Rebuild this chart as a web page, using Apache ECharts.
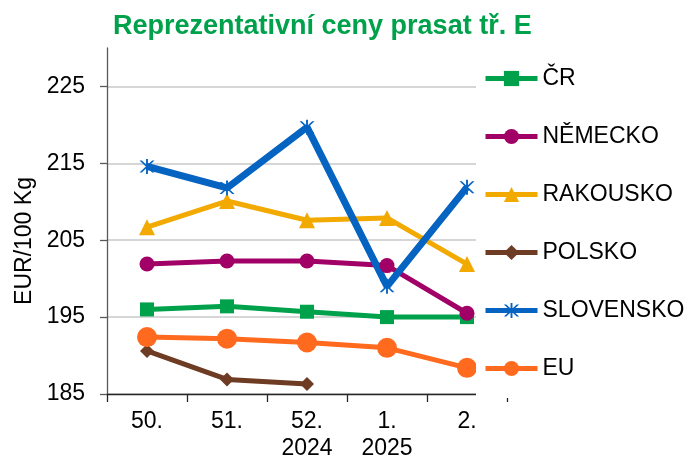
<!DOCTYPE html>
<html><head><meta charset="utf-8">
<script src="https://cdn.jsdelivr.net/npm/echarts@6/dist/echarts.min.js"></script>
<style>html,body{margin:0;padding:0;background:#fff}#c{width:690px;height:462px}</style>
</head><body><div id="c"></div>
<script>
const categories = ['50.', '51.', '52.\n2024', '1.\n2025', '2.'];
const seriesNames = ['ČR', 'NĚMECKO', 'RAKOUSKO', 'POLSKO', 'SLOVENSKO', 'EU'];
const crValues = [196.0, 196.4, 195.7, 195.0, 195.0];
const nemeckoValues = [201.9, 202.3, 202.3, 201.7, 195.5];
const rakouskoValues = [206.7, 210.1, 207.6, 207.9, 201.9];
const polskoValues = [190.6, 186.9, 186.3, null, null];
const slovenskoValues = [214.6, 211.8, 219.7, 199.0, 211.9];
const euValues = [192.4, 192.2, 191.7, 191.0, 188.4];
const yTickValues = [185, 195, 205, 215, 225];

const FONT = 'Liberation Sans, Arial, sans-serif';
const asterisk = 'path://M9,0L11,0L11,20L9,20Z M2,2L4.5,2L18,18L15.5,18Z M15.5,2L18,2L4.5,18L2,18Z';

const styles = [
  {color: '#00A14B', symbol: 'rect', size: 14, width: 5},
  {color: '#A10066', symbol: 'circle', size: 15, width: 5},
  {color: '#F2A900', symbol: 'triangle', size: 16, width: 5},
  {color: '#6E3B23', symbol: 'diamond', size: 14, width: 5},
  {color: '#0563C1', symbol: asterisk, size: 15, width: 7},
  {color: '#FF6A1F', symbol: 'circle', size: 20, width: 5}
];
const allValues = [crValues, nemeckoValues, rakouskoValues, polskoValues, slovenskoValues, euValues];

const chart = echarts.init(document.getElementById('c'), null, {renderer: 'canvas'});
chart.setOption({
  animation: false,
  backgroundColor: '#fff',
  textStyle: {fontFamily: FONT},
  title: {
    text: 'Reprezentativní ceny prasat tř. E',
    left: 113, top: 13, padding: 0,
    textStyle: {fontFamily: FONT, fontSize: 27, fontWeight: 'bold', color: '#00A14B'}
  },
  grid: {left: 107, right: 183, top: 48, bottom: 67, containLabel: false},
  legend: {
    orient: 'vertical', left: 476, top: 47,
    padding: [20, 10, 18, 7],
    backgroundColor: '#fff',
    itemWidth: 52, itemHeight: 19, itemGap: 35,
    lineStyle: {width: 5},
    textStyle: {fontFamily: FONT, fontSize: 23, color: '#000', lineHeight: 20},
    data: seriesNames
  },
  xAxis: {
    type: 'category', data: categories, boundaryGap: true,
    axisLine: {lineStyle: {color: '#262626', width: 1.3}},
    axisTick: {show: true, length: 8, lineStyle: {color: '#262626', width: 1.3}},
    axisLabel: {fontFamily: FONT, fontSize: 23, color: '#000', lineHeight: 27, margin: 14}
  },
  yAxis: {
    type: 'value', min: 185, max: 230,
    axisLine: {show: true, lineStyle: {color: '#595959', width: 1.3}},
    axisTick: {show: true, length: 7, customValues: yTickValues, lineStyle: {color: '#595959', width: 1.3}},
    axisLabel: {fontFamily: FONT, fontSize: 23, color: '#000', margin: 22, customValues: yTickValues},
    splitLine: {show: true, lineStyle: {color: '#C8C8C8', width: 1.5}}
  },
  graphic: [{
    type: 'text', x: 25, y: 241, rotation: Math.PI / 2,
    style: {text: 'EUR/100 Kg', fontFamily: FONT, fontSize: 23, fill: '#000', textAlign: 'center', textVerticalAlign: 'middle'}
  }],
  series: seriesNames.map((name, i) => ({
    name: name, type: 'line', data: allValues[i],
    symbol: styles[i].symbol, symbolSize: styles[i].size,
    showAllSymbol: true, connectNulls: false,
    lineStyle: {color: styles[i].color, width: styles[i].width},
    itemStyle: {color: styles[i].color, opacity: 1},
    emphasis: {disabled: true}
  }))
});
</script></body></html>
